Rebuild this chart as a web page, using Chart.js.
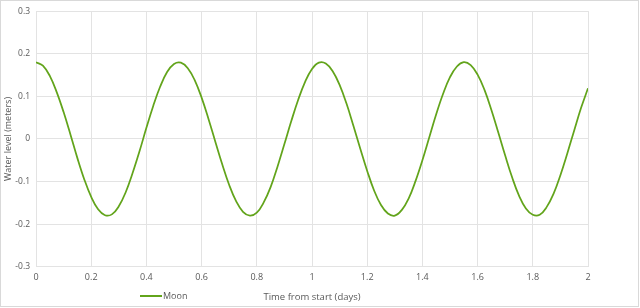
<!DOCTYPE html>
<html><head><meta charset="utf-8">
<script src="https://cdn.jsdelivr.net/npm/chart.js@4/dist/chart.umd.min.js"></script>
<style>html,body{margin:0;padding:0;background:#fff}#wrap{width:640px;height:308px;position:relative}</style>
</head><body><div id="wrap"><canvas id="c" width="640" height="308"></canvas></div>
<script>
const seriesName = "Moon";
const xTitle = "Time from start (days)";
const yTitle = "Water level (meters)";
const timeDays = [0,0.025,0.05,0.075,0.1,0.125,0.15,0.175,0.2,0.225,0.25,0.275,0.3,0.325,0.35,0.375,0.4,0.425,0.45,0.475,0.5,0.525,0.55,0.575,0.6,0.625,0.65,0.675,0.7,0.725,0.75,0.775,0.8,0.825,0.85,0.875,0.9,0.925,0.95,0.975,1,1.025,1.05,1.075,1.1,1.125,1.15,1.175,1.2,1.225,1.25,1.275,1.3,1.325,1.35,1.375,1.4,1.425,1.45,1.475,1.5,1.525,1.55,1.575,1.6,1.625,1.65,1.675,1.7,1.725,1.75,1.775,1.8,1.825,1.85,1.875,1.9,1.925,1.95,1.975,2];
const waterLevel = [0.180,0.172,0.148,0.110,0.063,0.010,-0.045,-0.095,-0.136,-0.165,-0.179,-0.177,-0.158,-0.125,-0.080,-0.029,0.026,0.078,0.123,0.157,0.176,0.179,0.166,0.138,0.097,0.047,-0.007,-0.060,-0.108,-0.146,-0.171,-0.180,-0.173,-0.149,-0.113,-0.065,-0.012,0.042,0.092,0.134,0.164,0.179,0.177,0.159,0.127,0.083,0.031,-0.023,-0.075,-0.121,-0.155,-0.175,-0.180,-0.167,-0.140,-0.099,-0.050,0.004,0.058,0.106,0.145,0.170,0.180,0.173,0.151,0.115,0.068,0.015,-0.039,-0.090,-0.133,-0.163,-0.178,-0.178,-0.160,-0.129,-0.085,-0.034,0.020,0.073,0.119];
const yTicks = [-0.3,-0.2,-0.1,0,0.1,0.2,0.3];
const xTicks = [0,0.2,0.4,0.6,0.8,1,1.2,1.4,1.6,1.8,2];

const points = timeDays.map((t,i)=>({x:t,y:waterLevel[i]}));
const FONT = "'Open Sans', 'Liberation Sans', sans-serif";
const GREEN = "#62a41b";

const frame = {
  id:'frame',
  beforeDraw(chart){
    const ctx = chart.ctx;
    ctx.save();
    ctx.fillStyle='#fff';
    ctx.fillRect(0,0,chart.width,chart.height);
    ctx.strokeStyle='#d9d9d9';
    ctx.lineWidth=1;
    ctx.strokeRect(0.5,0.5,638,306);
    ctx.restore();
  },
  afterDraw(chart){
    const ctx = chart.ctx;
    ctx.save();
    const y = 296;
    ctx.strokeStyle = GREEN;
    ctx.lineWidth = 2;
    ctx.beginPath();ctx.moveTo(140,y);ctx.lineTo(162,y);ctx.stroke();
    ctx.fillStyle='#595959';
    ctx.font = "9px " + FONT;
    ctx.textBaseline='middle';
    ctx.textAlign='left';
    ctx.fillText(chart.data.datasets[0].label,163,y);
    ctx.restore();
  }
};

new Chart(document.getElementById('c'),{
  type:'line',
  data:{datasets:[{label:seriesName,data:points,borderColor:GREEN,backgroundColor:GREEN,borderWidth:1.75,pointRadius:0,tension:0.4,fill:false}]},
  options:{
    responsive:false,animation:false,
    layout:{padding:{left:0,right:52,top:3,bottom:3}},
    plugins:{legend:{display:false},tooltip:{enabled:false}},
    scales:{
      x:{type:'linear',min:0,max:2,
        afterBuildTicks(s){s.ticks=xTicks.map(v=>({value:v}));},
        ticks:{color:'#595959',font:{family:FONT,size:9},padding:5,maxRotation:0,callback:v=>String(v)},
        grid:{color:'#e3e3e3',drawTicks:false,tickLength:0},
        border:{display:false},
        title:{display:true,text:xTitle,color:'#595959',font:{family:FONT,size:9.5},padding:{top:4,bottom:2}}
      },
      y:{min:-0.3,max:0.3,
        afterBuildTicks(s){s.ticks=yTicks.map(v=>({value:v}));},
        afterFit(s){s.width=36;},
        ticks:{color:'#595959',font:{family:FONT,size:8.5},padding:6,callback:v=>String(Math.round(v*10)/10)},
        grid:{color:'#e3e3e3',drawTicks:false,tickLength:0},
        border:{display:false},
        title:{display:true,text:yTitle,color:'#595959',font:{family:FONT,size:9},padding:{top:3,bottom:0}}
      }
    }
  },
  plugins:[frame]
});
</script></body></html>
